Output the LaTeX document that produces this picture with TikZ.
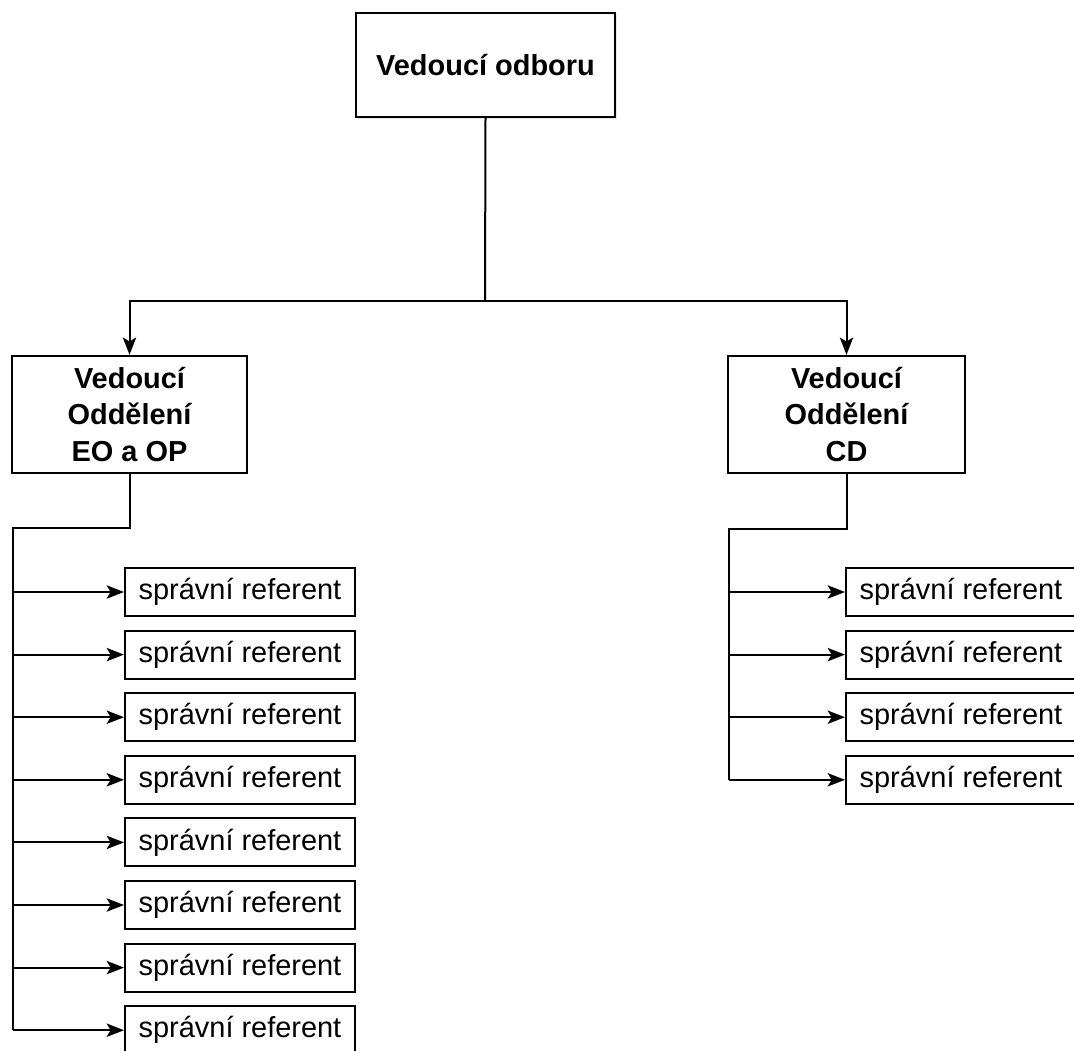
\documentclass[tikz,border=0pt]{standalone}
\usepackage{fontspec}
\setmainfont{Liberation Sans}
\usetikzlibrary{arrows.meta,shadows}

\tikzset{
  box/.style={draw, line width=1.5pt, fill=white, align=center, inner sep=0pt,
    font=\fontsize{21.7}{27.5}\selectfont},
  head/.style={box, font=\fontsize{21.7}{27.5}\selectfont\bfseries},
  referent/.style={box, minimum width=172.5pt, minimum height=36pt},
  link/.style={line width=1.5pt},
  linkarrow/.style={line width=1.5pt, -{Stealth[length=13pt, width=10pt, inset=3pt]}}
}

\begin{document}
\begin{tikzpicture}[x=0.75pt,y=0.75pt,yscale=-1,xscale=1]

\clip (0,0) rectangle (1074,1050);

%Shape: top box
\node [head, minimum width=194pt, minimum height=78pt,
  drop shadow={opacity=0.2, shadow xshift=1.5pt, shadow yshift=-1.5pt}]
  (odbor) at (485.5,65) {Vedouc\'{\i} odboru};

%Shape: department boxes
\node [head, minimum width=176pt, minimum height=88pt] (eoop) at (129.5,414.5) {Vedouc\'{\i}\\Odd\v{e}len\'{\i}\\EO a OP};
\node [head, minimum width=178pt, minimum height=88pt] (cd) at (846.5,414.5) {Vedouc\'{\i}\\Odd\v{e}len\'{\i}\\CD};

% split points
\coordinate (split) at (485,301);
\coordinate (eotop) at (13,528);
\coordinate (eobot) at (13,1030);
\coordinate (cdtop) at (729,529);
\coordinate (cdbot) at (729,780);

% top connectors
\draw [link] (odbor.south) -- (split);
\draw [linkarrow] (split) -| (eoop.north);
\draw [linkarrow] (split) -| (cd.north);

% referents EO a OP
\foreach \i in {1,...,8}
  \node [referent] (eoref\i) at (240,{592+62.6*(\i-1)}) {spr\'avn\'{\i} referent};
\draw [link] (eoop.south) |- (eotop) -- (eobot);
\foreach \i in {1,...,8}
  \draw [linkarrow] (eotop |- eoref\i.west) -- (eoref\i.west);

% referents CD
\foreach \i in {1,...,4}
  \node [referent] (cdref\i) at (961,{592+62.6*(\i-1)}) {spr\'avn\'{\i} referent};
\draw [link] (cd.south) |- (cdtop) -- (cdbot);
\foreach \i in {1,...,4}
  \draw [linkarrow] (cdtop |- cdref\i.west) -- (cdref\i.west);

\end{tikzpicture}
\end{document}
